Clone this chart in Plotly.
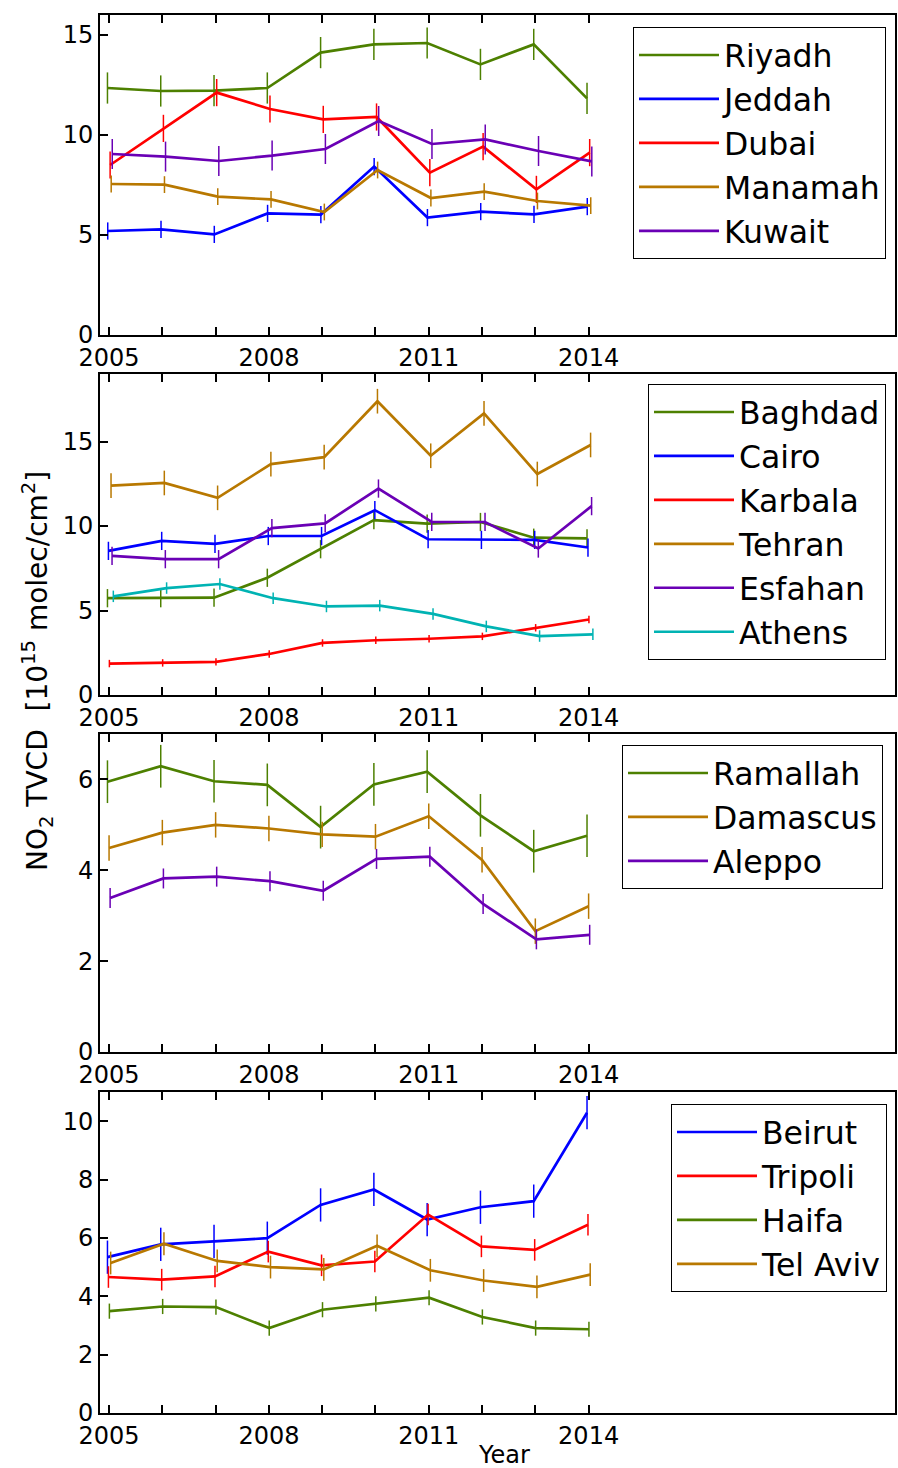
import plotly.graph_objects as go
from plotly.subplots import make_subplots

YEARS = [2005, 2006, 2007, 2008, 2009, 2010, 2011, 2012, 2013, 2014]
LABELED_YEARS = [2005, 2008, 2011, 2014]

GREEN = "#4d8000"
BLUE = "#0000ff"
RED = "#ff0000"
BROWN = "#b87800"
PURPLE = "#6a00b5"
CYAN = "#00b3b3"

# Panel 1
riyadh = [12.35, 12.2, 12.22, 12.35, 14.12, 14.53, 14.6, 13.53, 14.53, 11.83]
jeddah = [5.2, 5.28, 5.03, 6.08, 6.02, 8.42, 5.87, 6.17, 6.03, 6.42]
dubai = [8.5, 10.33, 12.12, 11.3, 10.78, 10.9, 8.12, 9.42, 7.28, 9.12]
manamah = [7.55, 7.52, 6.92, 6.78, 6.15, 8.25, 6.85, 7.17, 6.7, 6.47]
kuwait = [9.05, 8.92, 8.7, 8.97, 9.3, 10.7, 9.55, 9.78, 9.2, 8.68]

# Panel 2
baghdad = [5.73, 5.73, 5.76, 6.94, 8.63, 10.35, 10.14, 10.24, 9.31, 9.27]
cairo = [8.53, 9.12, 8.94, 9.41, 9.41, 10.94, 9.22, 9.18, 9.18, 8.73]
karbala = [1.86, 1.9, 1.96, 2.43, 3.08, 3.24, 3.33, 3.47, 3.98, 4.47]
tehran = [12.39, 12.55, 11.67, 13.67, 14.08, 17.39, 14.16, 16.67, 13.08, 14.8]
esfahan = [8.24, 8.04, 8.04, 9.88, 10.16, 12.22, 10.25, 10.24, 8.67, 11.18]
athens = [5.84, 6.33, 6.57, 5.73, 5.24, 5.29, 4.8, 4.06, 3.49, 3.59]

# Panel 3
ramallah = [5.95, 6.29, 5.96, 5.88, 4.95, 5.89, 6.17, 5.21, 4.42, 4.76]
damascus = [4.49, 4.83, 5.0, 4.92, 4.79, 4.74, 5.19, 4.23, 2.66, 3.21]
aleppo = [3.39, 3.82, 3.86, 3.76, 3.55, 4.25, 4.3, 3.26, 2.48, 2.58]

# Panel 4
beirut = [5.34, 5.78, 5.88, 5.99, 7.13, 7.66, 6.63, 7.05, 7.26, 10.29]
tripoli = [4.66, 4.57, 4.68, 5.53, 5.06, 5.19, 6.8, 5.71, 5.59, 6.45]
haifa = [3.49, 3.65, 3.63, 2.91, 3.54, 3.74, 3.95, 3.29, 2.91, 2.87]
telaviv = [5.14, 5.8, 5.21, 5.0, 4.92, 5.73, 4.89, 4.54, 4.32, 4.74]

# (name, values, colour, error half-width, small year shift)
PANELS = [
    [("Riyadh", riyadh, GREEN, 0.78, -0.03),
     ("Jeddah", jeddah, BLUE, 0.43, -0.025),
     ("Dubai", dubai, RED, 0.68, 0.02),
     ("Manamah", manamah, BROWN, 0.42, 0.04),
     ("Kuwait", kuwait, PURPLE, 0.75, 0.06)],
    [("Baghdad", baghdad, GREEN, 0.54, -0.03),
     ("Cairo", cairo, BLUE, 0.54, -0.012),
     ("Karbala", karbala, RED, 0.22, 0.006),
     ("Tehran", tehran, BROWN, 0.73, 0.037),
     ("Esfahan", esfahan, PURPLE, 0.54, 0.056),
     ("Athens", athens, CYAN, 0.34, 0.08)],
    [("Ramallah", ramallah, GREEN, 0.47, -0.03),
     ("Damascus", damascus, BROWN, 0.28, 0.0),
     ("Aleppo", aleppo, PURPLE, 0.22, 0.02)],
    [("Beirut", beirut, BLUE, 0.57, -0.03),
     ("Tripoli", tripoli, RED, 0.37, -0.012),
     ("Haifa", haifa, GREEN, 0.26, 0.006),
     ("Tel Aviv", telaviv, BROWN, 0.39, 0.03)],
]

Y_RANGES = [[0, 16], [0, 19], [0, 7], [0, 11]]
Y_DTICK = [5, 5, 2, 2]

# figure geometry (pixels)
W, H = 898, 1468
ML, MR, MT, MB = 100, 3, 15, 55
PLOT_W = W - ML - MR
PLOT_H = H - MT - MB
PANEL_PX = [(16, 335), (375, 695), (735, 1052), (1093, 1413)]
LEGEND_TOP_PX = [27, 384, 745, 1104]
LEGEND_LEFT_PX = [633, 648, 622, 671]

FONT = "DejaVu Sans"

fig = make_subplots(rows=4, cols=1)

for i, series in enumerate(PANELS):
    leg = "legend" if i == 0 else f"legend{i+1}"
    for name, vals, col, err, shift in series:
        fig.add_trace(go.Scatter(
            x=[y + shift for y in YEARS], y=vals, name=name, mode="lines",
            line=dict(color=col, width=2.7),
            error_y=dict(type="constant", value=err, width=0, thickness=1.5, color=col),
            legend=leg,
        ), row=i + 1, col=1)

def py(px):
    return (H - MB - px) / PLOT_H

def pxx(px):
    return (px - ML) / PLOT_W

layout = dict(
    width=W, height=H,
    margin=dict(l=ML, r=MR, t=MT, b=MB, autoexpand=False),
    paper_bgcolor="white", plot_bgcolor="white",
    font=dict(family=FONT, size=24, color="black"),
    showlegend=True,
)

for i in range(4):
    top, bot = PANEL_PX[i]
    xa = "xaxis" if i == 0 else f"xaxis{i+1}"
    ya = "yaxis" if i == 0 else f"yaxis{i+1}"
    layout[xa] = dict(
        range=[2004.83, 2019.75], tickmode="array", tickvals=YEARS,
        ticktext=[str(y) if y in LABELED_YEARS else "" for y in YEARS],
        ticks="inside", ticklen=8, tickwidth=1.5, tickcolor="black",
        showline=True, linewidth=2, linecolor="black", mirror="ticks",
        showgrid=False, zeroline=False, tickfont=dict(size=24),
        automargin=False, anchor=ya.replace("axis", ""),
    )
    layout[ya] = dict(
        domain=[py(bot), py(top - 1)], range=Y_RANGES[i], dtick=Y_DTICK[i],
        ticks="inside", ticklen=8, tickwidth=1.5, tickcolor="black",
        showline=True, linewidth=2, linecolor="black", mirror=True,
        showgrid=False, zeroline=False, tickfont=dict(size=24),
        automargin=False,
    )
    leg = "legend" if i == 0 else f"legend{i+1}"
    layout[leg] = dict(
        x=pxx(LEGEND_LEFT_PX[i]), xanchor="left", y=py(LEGEND_TOP_PX[i]), yanchor="top",
        bgcolor="white", bordercolor="black", borderwidth=1,
        font=dict(size=31.5, family=FONT), itemwidth=80,
        tracegroupgap=0,
    )

fig.update_layout(**layout)

fig.add_annotation(
    text="NO<sub>2</sub> TVCD  [10<sup>15</sup> molec/cm<sup>2</sup>]",
    textangle=-90, xref="paper", yref="paper",
    x=pxx(37), y=py(671), xanchor="center", yanchor="middle",
    showarrow=False, font=dict(size=28, family=FONT),
)
fig.add_annotation(
    text="Year", xref="paper", yref="paper",
    x=pxx(504), y=py(1455), xanchor="center", yanchor="middle",
    showarrow=False, font=dict(size=24, family=FONT),
)

fig.write_html(
    "out.html",
    config={"displayModeBar": False},
    post_script="document.body.style.margin='0';document.body.style.overflow='hidden';",
)
